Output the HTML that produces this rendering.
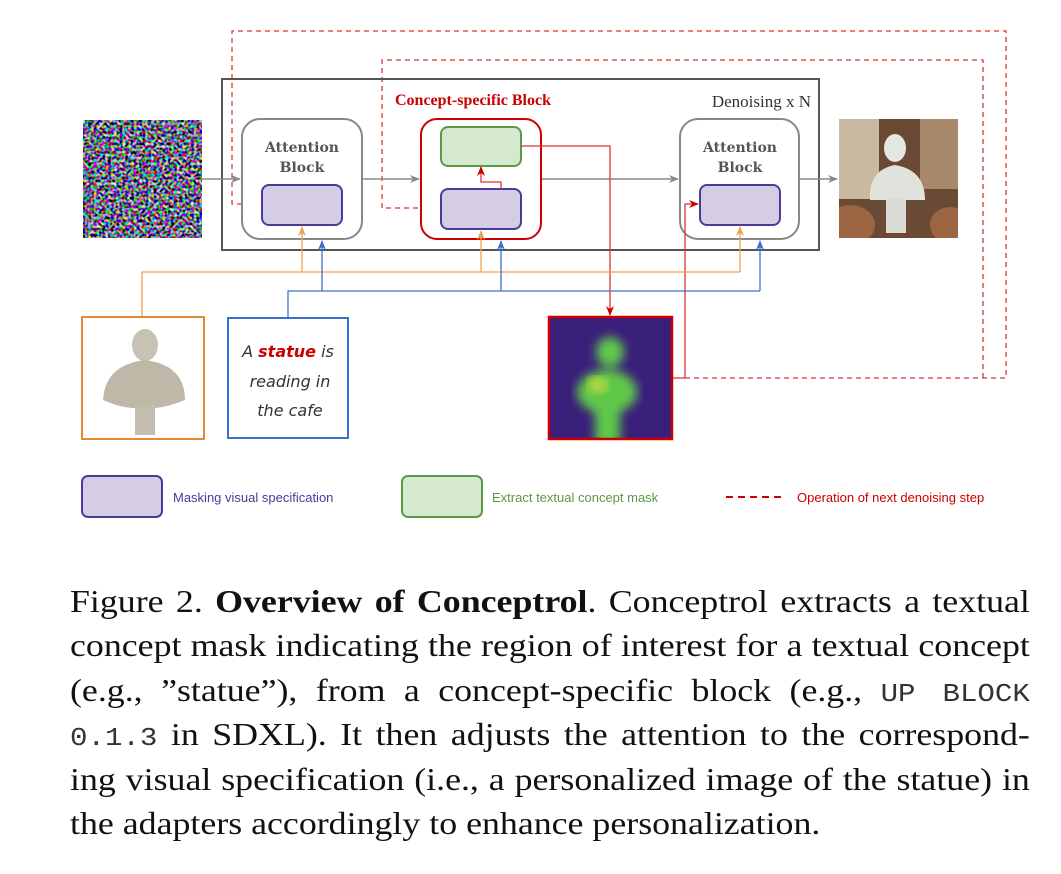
<!DOCTYPE html>
<html><head><meta charset="utf-8"><style>
body{margin:0;background:#fff;width:1061px;height:874px;overflow:hidden;position:relative}
.cap{position:absolute;left:70px;width:857px;top:579px;font-family:"Liberation Serif",serif;font-size:32px;line-height:44.4px;color:#111;transform:scaleX(1.12);transform-origin:0 0}
.cap div{height:44.4px;text-align:justify;text-align-last:justify;white-space:nowrap}
.cap div.l{text-align-last:left}
.mono{font-family:"Liberation Mono",monospace;font-size:26px;line-height:0;color:#333}
</style></head><body>
<svg width="1061" height="560" style="position:absolute;left:0;top:0" xmlns="http://www.w3.org/2000/svg">
<defs>
<marker id="ag" markerWidth="10" markerHeight="10" refX="9" refY="5" orient="auto" markerUnits="userSpaceOnUse"><path d="M0,1 L10,5 L0,9 L3,5z" fill="#888"/></marker>
<marker id="ar" markerWidth="10" markerHeight="10" refX="9" refY="5" orient="auto" markerUnits="userSpaceOnUse"><path d="M0,1 L10,5 L0,9 L3,5z" fill="#c00"/></marker>
<marker id="ao" markerWidth="10" markerHeight="10" refX="9" refY="5" orient="auto" markerUnits="userSpaceOnUse"><path d="M0,1 L10,5 L0,9 L3,5z" fill="#f0a050"/></marker>
<marker id="ab" markerWidth="10" markerHeight="10" refX="9" refY="5" orient="auto" markerUnits="userSpaceOnUse"><path d="M0,1 L10,5 L0,9 L3,5z" fill="#3a70d0"/></marker>
<filter id="noise" x="0" y="0" width="100%" height="100%"><feTurbulence type="fractalNoise" baseFrequency="0.35" numOctaves="1" seed="3"/><feColorMatrix type="matrix" values="3 0 0 0 -1.3  0 3 0 0 -1.3  0 0 3 0 -1.2  0 0 0 0 1"/></filter>
<filter id="blur"><feGaussianBlur stdDeviation="5"/></filter>
<clipPath id="cm"><rect x="549" y="317" width="123" height="122"/></clipPath>
<clipPath id="co"><rect x="839" y="119" width="119" height="119"/></clipPath>
</defs>
<path d="M685,378 H1006 V31 H232 V204 H260" fill="none" stroke="#d33" stroke-width="1.3" stroke-dasharray="5,4" marker-end="url(#ar)"/>
<path d="M983,378 V60 H382 V208 H439" fill="none" stroke="#d33" stroke-width="1.3" stroke-dasharray="5,4" marker-end="url(#ar)"/>
<rect x="222" y="79" width="597" height="171" fill="none" stroke="#555" stroke-width="2"/>
<text x="811" y="107" text-anchor="end" font-family="Liberation Serif,serif" font-size="17" fill="#333">Denoising x N</text>
<text x="395" y="105" font-family="Liberation Serif,serif" font-size="16" font-weight="bold" fill="#c00">Concept-specific Block</text>
<rect x="83" y="120" width="119" height="118" filter="url(#noise)"/>
<path d="M202,179 H240" stroke="#888" stroke-width="1.5" marker-end="url(#ag)"/>
<path d="M362,179 H419" stroke="#888" stroke-width="1.5" marker-end="url(#ag)"/>
<path d="M541,179 H678" stroke="#888" stroke-width="1.5" marker-end="url(#ag)"/>
<path d="M799,179 H837" stroke="#888" stroke-width="1.5" marker-end="url(#ag)"/>
<rect x="242" y="119" width="120" height="120" rx="18" fill="#fff" stroke="#888" stroke-width="2"/>
<text x="302" y="152" text-anchor="middle" font-family="DejaVu Serif,serif" font-size="14" font-weight="bold" fill="#555">Attention</text>
<text x="302" y="172" text-anchor="middle" font-family="DejaVu Serif,serif" font-size="14" font-weight="bold" fill="#555">Block</text>
<rect x="262" y="185" width="80" height="40" rx="7" fill="#d5cde6" stroke="#4b3a9a" stroke-width="2"/>
<rect x="680" y="119" width="119" height="120" rx="18" fill="#fff" stroke="#888" stroke-width="2"/>
<text x="740" y="152" text-anchor="middle" font-family="DejaVu Serif,serif" font-size="14" font-weight="bold" fill="#555">Attention</text>
<text x="740" y="172" text-anchor="middle" font-family="DejaVu Serif,serif" font-size="14" font-weight="bold" fill="#555">Block</text>
<rect x="700" y="185" width="80" height="40" rx="7" fill="#d5cde6" stroke="#4b3a9a" stroke-width="2"/>
<rect x="421" y="119" width="120" height="120" rx="16" fill="#fff" stroke="#c00" stroke-width="2"/>
<rect x="441" y="127" width="80" height="39" rx="7" fill="#d5e8d0" stroke="#5a9a45" stroke-width="2"/>
<rect x="441" y="189" width="80" height="40" rx="7" fill="#d5cde6" stroke="#4b3a9a" stroke-width="2"/>
<path d="M501,189 V182 H481 V167" fill="none" stroke="#d33" stroke-width="1.3" marker-end="url(#ar)"/>
<path d="M521,146 H610 V315" fill="none" stroke="#d33" stroke-width="1.3" marker-end="url(#ar)"/>
<path d="M672,378 H685 V204 H698" fill="none" stroke="#d33" stroke-width="1.3" marker-end="url(#ar)"/>
<path d="M142,317 V272 H740" fill="none" stroke="#f0a050" stroke-width="1.3"/>
<path d="M302,272 V227" stroke="#f0a050" stroke-width="1.3" marker-end="url(#ao)"/>
<path d="M481,272 V231" stroke="#f0a050" stroke-width="1.3" marker-end="url(#ao)"/>
<path d="M740,272 V227" stroke="#f0a050" stroke-width="1.3" marker-end="url(#ao)"/>
<path d="M288,318 V291 H760" fill="none" stroke="#3a70d0" stroke-width="1.3"/>
<path d="M322,291 V241" stroke="#3a70d0" stroke-width="1.3" marker-end="url(#ab)"/>
<path d="M501,291 V241" stroke="#3a70d0" stroke-width="1.3" marker-end="url(#ab)"/>
<path d="M760,291 V241" stroke="#3a70d0" stroke-width="1.3" marker-end="url(#ab)"/>
<g clip-path="url(#co)">
<rect x="839" y="119" width="119" height="119" fill="#6b4a35"/>
<rect x="839" y="119" width="40" height="80" fill="#c9b9a0"/>
<rect x="920" y="119" width="38" height="70" fill="#a8886a"/>
<ellipse cx="850" cy="225" rx="25" ry="20" fill="#9a6540"/>
<ellipse cx="950" cy="225" rx="20" ry="18" fill="#9a6540"/>
<ellipse cx="895" cy="148" rx="11" ry="14" fill="#e6e6e2"/>
<path d="M870,200 Q868,170 895,165 Q925,170 925,200 Z" fill="#e2e2dd"/>
<rect x="886" y="198" width="20" height="35" fill="#dcdcd6"/>
</g>
<rect x="82" y="317" width="122" height="122" fill="#fff" stroke="#e08a3a" stroke-width="2"/>
<ellipse cx="145" cy="345" rx="13" ry="16" fill="#c8c2b4"/>
<path d="M103,400 Q105,365 145,360 Q185,365 185,400 Q160,410 145,408 Q125,410 103,400Z" fill="#bfb8a8"/>
<rect x="135" y="405" width="20" height="30" fill="#c3bdb0"/>
<rect x="228" y="318" width="120" height="120" fill="#fff" stroke="#3a70d0" stroke-width="2"/>
<text x="288" y="357" text-anchor="middle" font-family="DejaVu Sans,sans-serif" font-style="italic" font-size="16" fill="#333">A <tspan fill="#c00" font-weight="bold">statue</tspan> is</text>
<text x="290" y="387" text-anchor="middle" font-family="DejaVu Sans,sans-serif" font-style="italic" font-size="16" fill="#333">reading in</text>
<text x="290" y="416" text-anchor="middle" font-family="DejaVu Sans,sans-serif" font-style="italic" font-size="16" fill="#333">the cafe</text>
<g clip-path="url(#cm)">
<rect x="549" y="317" width="123" height="122" fill="#3a1f7a"/>
<g filter="url(#blur)" fill="#5fc84a">
<ellipse cx="610" cy="352" rx="14" ry="15"/>
<ellipse cx="607" cy="392" rx="30" ry="22"/>
<rect x="595" y="400" width="25" height="45"/>
</g>
<ellipse cx="598" cy="385" rx="10" ry="8" fill="#b8d840" filter="url(#blur)"/>
</g>
<rect x="549" y="317" width="123" height="122" fill="none" stroke="#c00" stroke-width="2.5"/>
<rect x="82" y="476" width="80" height="41" rx="6" fill="#d5cde6" stroke="#4b3a9a" stroke-width="2"/>
<text x="173" y="502" font-family="Liberation Sans,sans-serif" font-size="13" fill="#4b3a9a">Masking visual specification</text>
<rect x="402" y="476" width="80" height="41" rx="6" fill="#d5e8d0" stroke="#5a9a45" stroke-width="2"/>
<text x="492" y="502" font-family="Liberation Sans,sans-serif" font-size="13" fill="#5a9a45">Extract textual concept mask</text>
<path d="M726,497 H786" stroke="#c00" stroke-width="2" stroke-dasharray="7,5"/>
<text x="797" y="502" font-family="Liberation Sans,sans-serif" font-size="13" fill="#c00">Operation of next denoising step</text>
</svg>
<div class="cap">
<div>Figure 2. <b>Overview of Conceptrol</b>. Conceptrol extracts a textual</div>
<div>concept mask indicating the region of interest for a textual concept</div>
<div>(e.g., ”statue”), from a concept-specific block (e.g., <span class="mono">UP BLOCK</span></div>
<div><span class="mono">0.1.3</span> in SDXL). It then adjusts the attention to the correspond-</div>
<div>ing visual specification (i.e., a personalized image of the statue) in</div>
<div class="l">the adapters accordingly to enhance personalization.</div>
</div>
</body></html>
